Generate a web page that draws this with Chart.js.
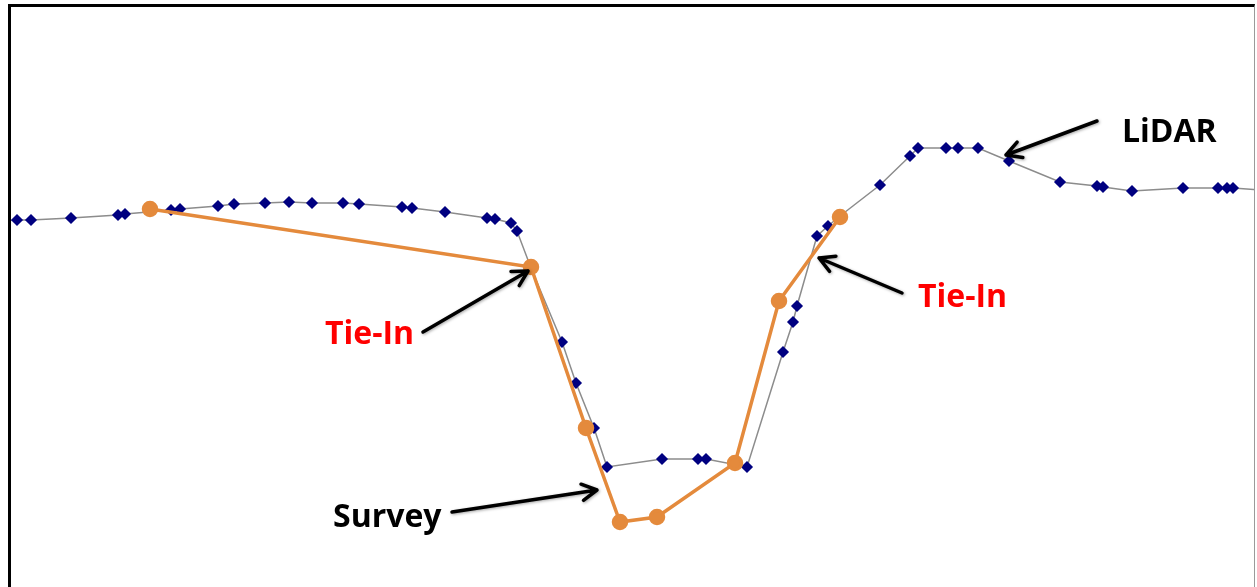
<!DOCTYPE html>
<html>
<head>
<meta charset="utf-8">
<script src="https://cdn.jsdelivr.net/npm/chart.js@4"></script>
<style>
    html, body { margin: 0; padding: 0; background: #fff; }
    #wrap { position: absolute; left: 0; top: 0; width: 1257px; height: 587px; overflow: hidden; }
    #plot { position: absolute; left: 11px; top: 7px; width: 1243px; height: 580px; overflow: hidden; }
    #plot canvas { position: absolute; left: -11px; top: -7px; }
    #frame {
        position: absolute; left: 8px; top: 4px; width: 1243px; height: 590px;
        border-left: 3px solid #000; border-top: 3px solid #000; border-right: 1px solid #9a9a9a;
        pointer-events: none;
    }
</style>
</head>
<body>
<div id="wrap">
    <div id="plot"><canvas id="profile" width="1257" height="587"></canvas></div>
    <div id="frame"></div>
</div>
<script>
// Cross-section profile: station along the section vs. elevation (arbitrary units)
const lidarStation = [2, 17, 31, 71, 118, 125, 171, 180, 218, 234, 265, 289, 312, 343, 359, 402, 412, 445,
    487, 495, 511, 517, 531, 562, 576, 594, 607, 662, 698, 706, 747, 783, 793, 797, 817, 828, 840,
    880, 910, 918, 946, 958, 978, 1009, 1060, 1097, 1103, 1132, 1183, 1218, 1227, 1233, 1262];
const lidarElev = [366, 367, 367, 369, 372, 373, 377, 378, 381, 383, 384, 385, 384, 384, 383, 380, 379, 375,
    369, 368, 364, 356, 319, 245, 204, 159, 120, 128, 128, 128, 120, 235, 265, 281, 351, 361, 371,
    402, 431, 439, 439, 439, 439, 426, 405, 401, 400, 396, 399, 399, 399, 399, 397];

const surveyStation = [150, 531, 586, 620, 657, 735, 779, 840];
const surveyElev = [378, 320, 159, 65, 70, 124, 286, 370];

// Callouts: label, colour, text anchor, arrow tail and arrow head (same units as the data)
const calloutText = ['LiDAR', 'Tie-In', 'Tie-In', 'Survey'];
const calloutColor = ['#000000', '#ff0000', '#ff0000', '#000000'];
const calloutTextAt = [[1122, 445], [325, 243], [918, 280], [333, 60]];
const calloutTail = [[1097, 466], [423, 255], [902, 294], [452, 75]];
const calloutHead = [[1006, 432], [528, 316], [819, 329], [597, 97]];

function toPoints(xs, ys) {
    return xs.map((x, i) => ({ x: x, y: ys[i] }));
}

// Draws the arrows and labels through the chart's own scales
const calloutPlugin = {
    id: 'callouts',
    afterDatasetsDraw(chart) {
        const ctx = chart.ctx;
        const sx = chart.scales.x;
        const sy = chart.scales.y;
        ctx.save();
        calloutText.forEach((txt, i) => {
            const tx = sx.getPixelForValue(calloutTail[i][0]);
            const ty = sy.getPixelForValue(calloutTail[i][1]);
            const hx = sx.getPixelForValue(calloutHead[i][0]);
            const hy = sy.getPixelForValue(calloutHead[i][1]);
            const ang = Math.atan2(hy - ty, hx - tx);
            const len = 17;
            ctx.strokeStyle = '#000';
            ctx.lineWidth = 3.5;
            ctx.lineCap = 'round';
            ctx.lineJoin = 'round';
            ctx.shadowColor = 'rgba(0,0,0,0.35)';
            ctx.shadowBlur = 3;
            ctx.shadowOffsetX = 1;
            ctx.shadowOffsetY = 1;
            ctx.beginPath();
            ctx.moveTo(tx, ty);
            ctx.lineTo(hx, hy);
            ctx.moveTo(hx - len * Math.cos(ang - 0.5), hy - len * Math.sin(ang - 0.5));
            ctx.lineTo(hx, hy);
            ctx.lineTo(hx - len * Math.cos(ang + 0.5), hy - len * Math.sin(ang + 0.5));
            ctx.stroke();

            ctx.shadowColor = 'transparent';
            ctx.fillStyle = calloutColor[i];
            ctx.font = 'bold 32px "Open Sans", sans-serif';
            ctx.textBaseline = 'alphabetic';
            ctx.fillText(txt, sx.getPixelForValue(calloutTextAt[i][0]), sy.getPixelForValue(calloutTextAt[i][1]));
        });
        ctx.restore();
    }
};

new Chart(document.getElementById('profile').getContext('2d'), {
    type: 'scatter',
    data: {
        datasets: [
            {
                label: 'Survey',
                data: toPoints(surveyStation, surveyElev),
                showLine: true,
                borderColor: '#e48a3c',
                backgroundColor: '#e48a3c',
                borderWidth: 3.5,
                pointRadius: 6.5,
                pointStyle: 'circle',
                order: 0
            },
            {
                label: 'LiDAR',
                data: toPoints(lidarStation, lidarElev),
                showLine: true,
                borderColor: '#8c8c8c',
                backgroundColor: '#000080',
                pointBorderColor: '#000080',
                borderWidth: 1.5,
                pointRadius: 5,
                pointStyle: 'rectRot',
                order: 1
            }
        ]
    },
    options: {
        responsive: false,
        animation: false,
        layout: { padding: 0, autoPadding: false },
        plugins: {
            legend: { display: false },
            tooltip: { enabled: false }
        },
        scales: {
            x: { type: 'linear', min: 0, max: 1257, display: false },
            y: { type: 'linear', min: 0, max: 587, display: false }
        }
    },
    plugins: [calloutPlugin]
});
</script>
</body>
</html>
